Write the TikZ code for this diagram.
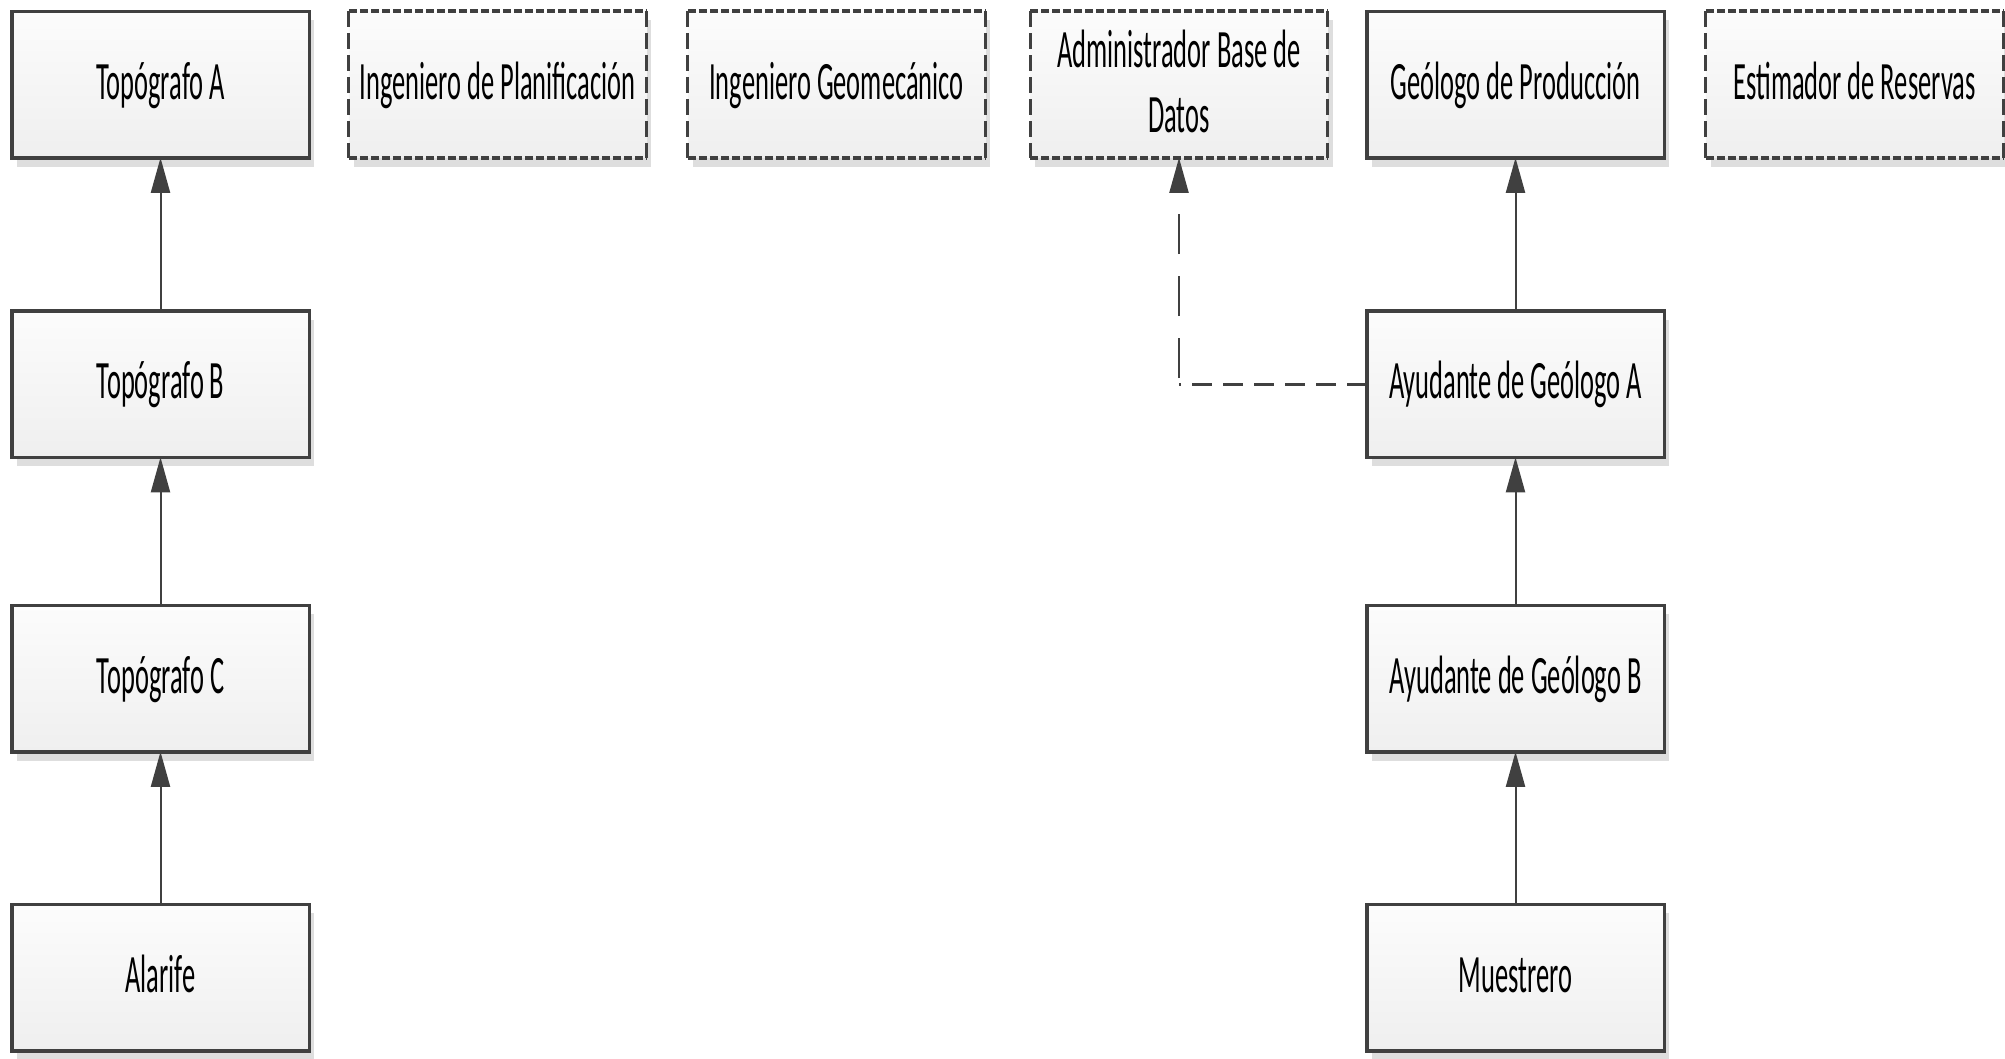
\documentclass[tikz,border=0pt]{standalone}
\usepackage{fontspec}
\setmainfont{Carlito}[FakeStretch=0.49]
\usetikzlibrary{arrows.meta,backgrounds}
\definecolor{ln}{HTML}{404040}
\definecolor{shd}{HTML}{DEDEDE}
\definecolor{gtop}{HTML}{FCFCFC}
\definecolor{gbot}{HTML}{EFEFEF}
\tikzset{
  box/.style={minimum width=297.5pt, minimum height=146.5pt, inner sep=0pt, outer sep=0pt,
    top color=gtop, bottom color=gbot, text=black,
    font=\fontsize{54pt}{65pt}\selectfont, text height=29pt, text depth=0pt, align=center},
  solidbox/.style={box, draw=ln, line width=3.5pt},
  dashbox/.style={box, draw=none},
  conn/.style={draw=ln, line width=2pt, -{Triangle[length=35pt,width=19pt]}},
  hedge/.style={draw=ln, line width=4pt, dash pattern=on 8pt off 3pt},
  vedge/.style={draw=ln, line width=3pt, dash pattern=on 16pt off 6pt},
  dlineh/.style={draw=ln, line width=3pt, dash pattern=on 20pt off 11pt},
  dlinev/.style={draw=ln, line width=2pt, dash pattern=on 40pt off 22pt, dash phase=56pt,
    -{Triangle[length=35pt,width=19pt]}},
}
\begin{document}
\begin{tikzpicture}[x=1pt,y=-1pt]
\useasboundingbox (0,0) rectangle (2005,1058);
% row 1
\node[solidbox] (tA) at (160.5,84.5) {Topógrafo A};
\node[dashbox] (ip) at (497.5,84.5) {Ingeniero de Planificación};
\node[dashbox] (ig) at (836.5,84.5) {Ingeniero Geomecánico};
\node[dashbox, text height=95pt] (ad) at (1179,84.5) {Administrador Base de\\Datos};
\node[solidbox] (gp) at (1515.5,84.5) {Geólogo de Producción};
\node[dashbox] (er) at (1854.5,84.5) {Estimador de Reservas};
% row 2
\node[solidbox] (tB) at (160.5,384) {Topógrafo B};
\node[solidbox] (ayA) at (1515.5,384) {Ayudante de Geólogo A};
% row 3
\node[solidbox] (tC) at (160.5,678.5) {Topógrafo C};
\node[solidbox] (ayB) at (1515.5,678.5) {Ayudante de Geólogo B};
% row 4
\node[solidbox] (al) at (160.5,977.5) {Alarife};
\node[solidbox] (mu) at (1515.5,977.5) {Muestrero};
% dashed borders
\foreach \n in {ip,ig,ad,er}{
  \draw[hedge] (\n.north west) -- (\n.north east);
  \draw[hedge] (\n.south west) -- (\n.south east);
  \draw[vedge] (\n.north west) -- (\n.south west);
  \draw[vedge] (\n.north east) -- (\n.south east);
}
% shadows
\begin{scope}[on background layer]
\foreach \n in {tA,ip,ig,ad,gp,er,tB,ayA,tC,ayB,al,mu}{
  \fill[shd] ([xshift=5pt,yshift=-9pt]\n.south west) rectangle ([xshift=5pt,yshift=-9pt]\n.north east);
}
\end{scope}
% connectors
\draw[conn] (tB.north) -- (tA.south);
\draw[conn] (tC.north) -- (tB.south);
\draw[conn] (al.north) -- (tC.south);
\draw[conn] (ayA.north) -- (gp.south);
\draw[conn] (ayB.north) -- (ayA.south);
\draw[conn] (mu.north) -- (ayB.south);
\coordinate (bend) at (ad.south |- ayA.west);
\draw[dlineh] (ayA.west) -- (bend);
\draw[dlinev] (bend) -- (ad.south);
\end{tikzpicture}
\end{document}
